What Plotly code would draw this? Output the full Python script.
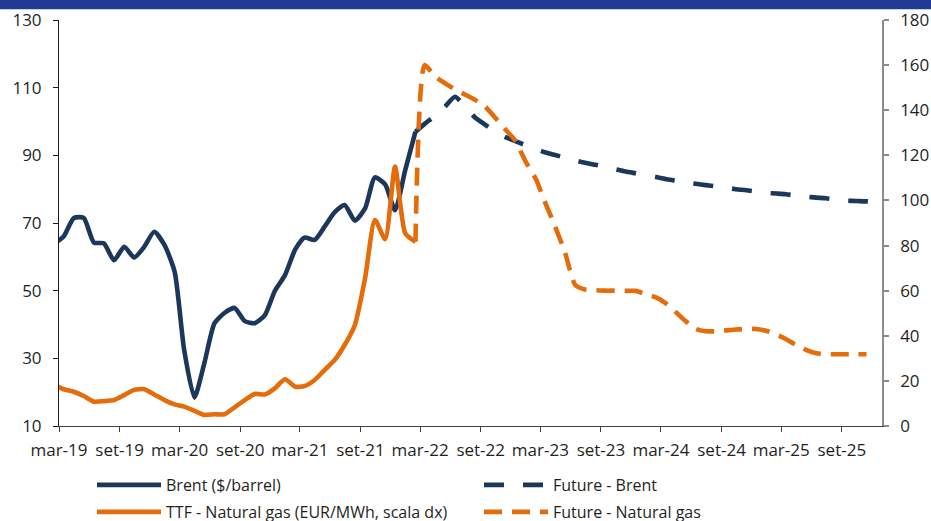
import pandas as pd
import plotly.graph_objects as go

# ---------------- data ----------------
hist_dates = pd.date_range("2019-02-01", "2022-02-01", freq="MS") + pd.Timedelta(days=14)
brent_hist = [64.0, 66.0, 71.5, 71.5, 64.2, 64.0, 59.0, 63.0, 59.8, 63.0, 67.4,
              63.5, 55.6, 32.4, 18.4, 28.5, 40.4, 43.4, 44.9, 41.0, 40.4, 42.8, 49.9,
              54.6, 62.2, 65.7, 65.0, 68.9, 73.2, 75.3, 70.7, 74.3, 83.5, 81.4, 73.8,
              85.7, 97.0]
ttf_hist = [18.3, 16.3, 15.2, 13.3, 10.8, 11.0, 11.5, 13.7, 16.0, 16.3, 14.0,
            11.5, 9.6, 8.6, 6.7, 4.9, 5.2, 5.2, 8.3, 11.5, 14.2, 14.0, 16.7,
            20.7, 17.4, 17.7, 20.4, 24.8, 29.3, 35.9, 44.8, 65.5, 91.3, 82.8, 115.0,
            85.4, 81.7]

brent_fut_dates = pd.date_range("2022-02-01", "2025-12-01", freq="MS") + pd.Timedelta(days=14)
brent_future = [97.0, 99.3, 101.7, 104.3, 107.3, 104.4, 101.2, 99.0, 97.0, 95.4, 94.2,
                93.0, 91.9, 90.9, 90.1, 89.3, 88.5, 87.8, 87.2, 86.6, 85.9, 85.2, 84.7,
                84.2, 83.6, 83.0, 82.5, 82.0, 81.6, 81.2, 80.8, 80.4, 80.0, 79.7, 79.3,
                78.9, 78.7, 78.5, 78.1, 77.8, 77.5, 77.3, 76.9, 76.6, 76.5, 76.4, 76.1]

ttf_fut_dates = pd.date_range("2022-02-01", "2025-11-01", freq="MS") + pd.Timedelta(days=14)
ttf_future = [81.7, 160.0, 155.0, 152.0, 149.2, 147.0, 144.6, 141.5, 136.7, 131.5, 126.5,
              117.3, 109.6, 99.3, 88.4, 76.8, 62.5, 60.5, 60.2, 60.0, 60.0, 59.9, 59.9,
              58.5, 57.0, 54.5, 50.5, 46.5, 43.0, 42.0, 42.0, 42.4, 42.8, 43.0, 43.0,
              42.2, 40.5, 38.6, 35.9, 33.8, 32.3, 31.8, 31.8, 31.8, 31.8, 31.8]

tick_dates = pd.date_range("2019-03-01", "2025-09-01", freq="6MS")
tick_labels = ["mar-19", "set-19", "mar-20", "set-20", "mar-21", "set-21", "mar-22",
               "set-22", "mar-23", "set-23", "mar-24", "set-24", "mar-25", "set-25"]

NAVY = "#1B375C"
ORANGE = "#E46C0A"
FONT = "Open Sans"
TXT = "#1f1f1f"
LW = 4.6
SM = 0.6

fig = go.Figure()
fig.add_trace(go.Scatter(x=hist_dates, y=brent_hist, name="Brent ($/barrel)", mode="lines",
                         line=dict(color=NAVY, width=LW, shape="spline", smoothing=SM),
                         legend="legend"))
fig.add_trace(go.Scatter(x=brent_fut_dates, y=brent_future, name="Future - Brent", mode="lines",
                         line=dict(color=NAVY, width=LW, dash="20px,19px", shape="spline", smoothing=SM),
                         legend="legend"))
fig.add_trace(go.Scatter(x=hist_dates, y=ttf_hist, name="TTF - Natural gas (EUR/MWh, scala dx)",
                         mode="lines", yaxis="y2",
                         line=dict(color=ORANGE, width=LW, shape="spline", smoothing=SM),
                         legend="legend2"))
fig.add_trace(go.Scatter(x=ttf_fut_dates, y=ttf_future, name="Future - Natural gas", mode="lines",
                         yaxis="y2",
                         line=dict(color=ORANGE, width=LW, dash="18px,10px", shape="spline", smoothing=SM),
                         legend="legend2"))

PW = 931 - 59 - 49
PH = 521 - 20 - 95

leg_common = dict(orientation="h", xanchor="left", yanchor="middle", x=33 / PW,
                  bgcolor="rgba(0,0,0,0)", itemwidth=64, entrywidth=308, entrywidthmode="pixels",
                  font=dict(family=FONT, size=16, color=TXT), itemclick=False, itemdoubleclick=False)

fig.update_layout(
    width=931, height=521,
    margin=dict(l=59, r=49, t=20, b=95, autoexpand=False),
    paper_bgcolor="white", plot_bgcolor="white",
    font=dict(family=FONT, size=17, color=TXT),
    showlegend=True,
    legend=dict(leg_common, y=(426 - 485) / PH),
    legend2=dict(leg_common, y=(426 - 512) / PH),
    xaxis=dict(type="date", range=["2019-03-01", "2026-01-01"],
               tickvals=list(tick_dates), ticktext=tick_labels,
               showgrid=False, zeroline=False, showline=True, linecolor="#404040", linewidth=1,
               ticks="outside", ticklen=5, tickwidth=1, tickcolor="#404040",
               ticklabelstandoff=4, tickfont=dict(family=FONT, size=17, color=TXT)),
    yaxis=dict(range=[10, 130], tickvals=[10, 30, 50, 70, 90, 110, 130],
               showgrid=False, zeroline=False, showline=True, linecolor="#1a1a1a", linewidth=1,
               ticks="outside", ticklen=5, tickwidth=1, tickcolor="#1a1a1a",
               ticklabelstandoff=8, tickfont=dict(family=FONT, size=17, color=TXT)),
    yaxis2=dict(range=[0, 180], tickvals=list(range(0, 181, 20)), overlaying="y", side="right",
                anchor="x", showgrid=False, zeroline=False, showline=True, linecolor="#8c8c8c",
                linewidth=1.5, ticks="outside", ticklen=5, tickwidth=1.5, tickcolor="#8c8c8c",
                ticklabelstandoff=8, tickfont=dict(family=FONT, size=17, color=TXT)),
    shapes=[dict(type="rect", xref="paper", yref="paper",
                 x0=-59 / PW, x1=1 + 49 / PW, y0=1 + 10.7 / PH, y1=1 + 20 / PH,
                 fillcolor="#213A94", line=dict(width=0), layer="above")],
)

fig.write_html("out.html", config={"displayModeBar": False},
               post_script="document.body.style.margin='0';document.body.style.padding='0';")
